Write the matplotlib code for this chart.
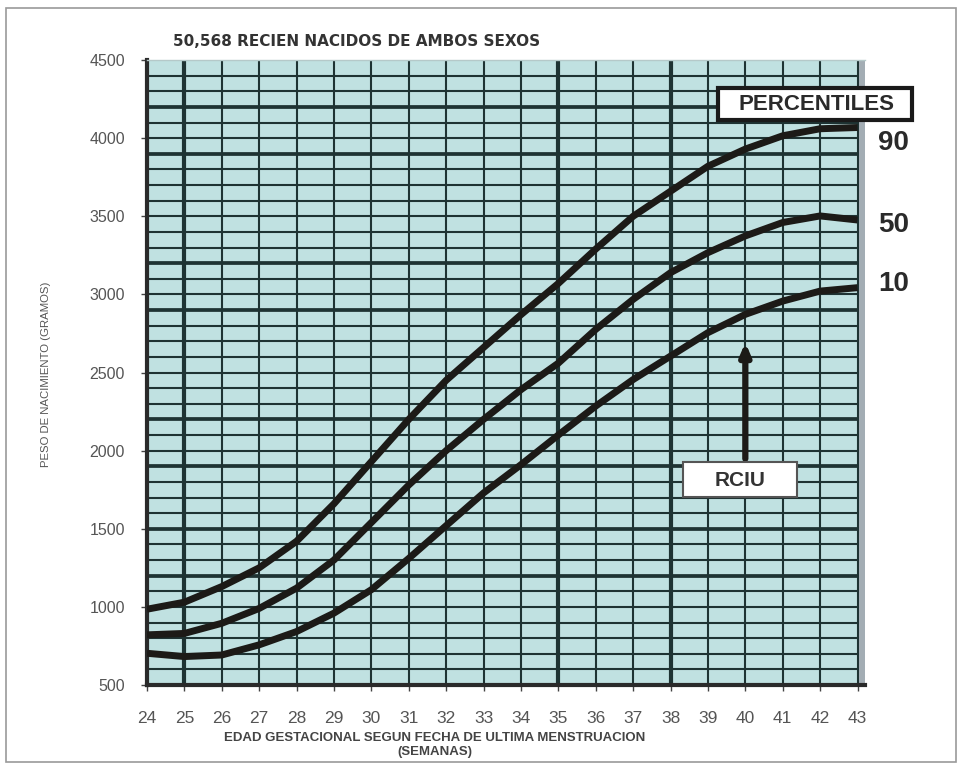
import numpy as np
import matplotlib.pyplot as plt
from matplotlib.patches import Rectangle

plt.rcParams['font.family'] = ['Liberation Sans', 'DejaVu Sans']

# semanas de gestacion
semanas = [24, 25, 26, 27, 28, 29, 30, 31, 32, 33, 34, 35, 36, 37, 38, 39, 40, 41, 42, 43]

# percentiles de peso al nacer (gramos)
p90 = [985, 1030, 1130, 1250, 1420, 1660, 1930, 2200, 2450, 2660, 2870, 3070, 3290, 3500, 3660, 3820, 3930, 4015, 4060, 4068]
p50 = [821, 830, 895, 990, 1120, 1300, 1540, 1780, 2000, 2200, 2390, 2560, 2776, 2968, 3139, 3267, 3374, 3460, 3502, 3476]
p10 = [703, 682, 692, 757, 842, 960, 1110, 1310, 1520, 1729, 1910, 2100, 2285, 2455, 2605, 2755, 2872, 2957, 3021, 3043]

etiquetas = ['90', '50', '10']
y_ticks = [500, 1000, 1500, 2000, 2500, 3000, 3500, 4000, 4500]
lineas_gruesas_h = [4200, 3900, 3200, 2900, 2200, 1900, 1500, 1200]
lineas_gruesas_v = [25, 35, 38]

W, H = 962, 767
fig = plt.figure(figsize=(W / 100, H / 100), dpi=100)
ax = fig.add_axes([147 / W, 1 - 685 / H, (865 - 147) / W, (685 - 60) / H])
ax.set_facecolor('#c0e1e1')
ax.set_xlim(24, 43.2)
ax.set_ylim(500, 4500)

grid_c = '#1e3333'
# rejilla fina
for g in range(600, 4500, 100):
    lw = 2.7 if g in lineas_gruesas_h else 1.5
    ax.axhline(g, xmax=(43 - 24) / 19.2, color=grid_c, lw=lw, zorder=1)
for s in semanas[1:-1] + [43]:
    lw = 3.0 if s in lineas_gruesas_v else 1.5
    ax.axvline(s, color=grid_c, lw=lw, zorder=1)

# franja gris a la derecha
ax.axvspan(43.03, 43.2, color='#a3adb4', zorder=2, lw=0)

for serie in (p90, p50, p10):
    ax.plot(semanas, serie, color='#1c1a17', lw=5, solid_capstyle='butt',
            solid_joinstyle='round', zorder=4)

for sp in ['left', 'bottom']:
    ax.spines[sp].set_color('#2a2a2a')
    ax.spines[sp].set_linewidth(3)
ax.spines['top'].set_color('#b5c9c9')
ax.spines['top'].set_linewidth(1)
ax.spines['right'].set_visible(False)

ax.set_yticks(y_ticks)
ax.set_yticklabels([str(v) for v in y_ticks], fontsize=11.5, color='#555555')
ax.set_xticks(semanas)
ax.set_xticklabels([str(s) for s in semanas], fontsize=12.5, color='#555555')
ax.tick_params(axis='y', length=4, width=1, color='#444444', pad=12)
ax.tick_params(axis='x', length=4, width=1, color='#444444', pad=15)

# textos
fig.text(173 / W, 1 - 42 / H, '50,568 RECIEN NACIDOS DE AMBOS SEXOS', fontsize=11,
         fontweight='bold', color='#333333', va='center', ha='left', family='DejaVu Sans')
fig.text(435 / W, 1 - 738 / H, 'EDAD GESTACIONAL SEGUN FECHA DE ULTIMA MENSTRUACION',
         fontsize=9.5, fontweight='bold', color='#444444', ha='center', va='center')
fig.text(435 / W, 1 - 752 / H, '(SEMANAS)', fontsize=9.5, fontweight='bold',
         color='#444444', ha='center', va='center')
fig.text(46 / W, 1 - 374 / H, 'PESO DE NACIMIENTO (GRAMOS)', fontsize=8.2,
         color='#555555', rotation=90, ha='center', va='center')

fig.patches.append(Rectangle((718 / W, 1 - 120 / H), 194 / W, 32 / H, transform=fig.transFigure,
                             fc='white', ec='#1a1a1a', lw=3, zorder=5))
fig.text(816 / W, 1 - 104 / H, 'PERCENTILES', fontsize=16, fontweight='bold', color='#2a2a2a',
         ha='center', va='center', zorder=6)
for lab, yp in zip(etiquetas, [143, 225, 284]):
    fig.text(878 / W, 1 - yp / H, lab, fontsize=20, fontweight='bold', color='#2a2a2a',
             ha='left', va='center')

ax.annotate('', xy=(40.0, 2710), xytext=(40.0, 1930),
            arrowprops=dict(arrowstyle='-|>,head_width=0.3,head_length=0.7',
                            color='#1c1a17', lw=4.5), zorder=5)
fig.patches.append(Rectangle((683 / W, 1 - 497 / H), 114 / W, 35 / H, transform=fig.transFigure,
                             fc='white', ec='#555555', lw=1.5, zorder=5))
fig.text(740 / W, 1 - 480 / H, 'RCIU', fontsize=15, fontweight='bold', color='#333333',
         ha='center', va='center', zorder=6)

fig.patches.append(Rectangle((6 / W, 1 - 762 / H), 950 / W, 754 / H, transform=fig.transFigure,
                             fill=False, ec='#9a9a9a', lw=1.2))

fig.savefig('out.png', dpi=100)
